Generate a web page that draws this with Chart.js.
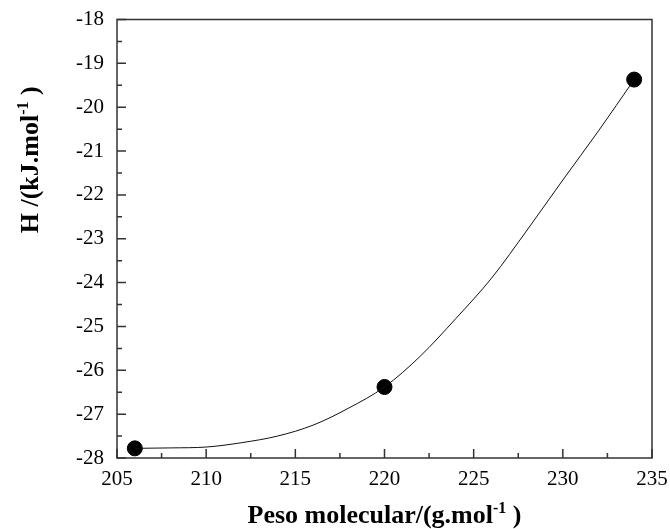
<!DOCTYPE html>
<html>
<head>
<meta charset="utf-8">
<script src="https://cdn.jsdelivr.net/npm/chart.js@4.4.1/dist/chart.umd.min.js"></script>
<style>
  body { margin: 0; background: #fff; }
  #wrap { width: 670px; height: 529px; }
  .probe { position: absolute; left: -9999px; font-family: "Liberation Serif"; }
</style>
</head>
<body>
<span class="probe">0</span><span class="probe" style="font-weight:bold">0</span>
<div id="wrap"><canvas id="chart" width="670" height="529"></canvas></div>
<script>
// measured points
const massValues = [206, 220, 234];
const enthalpyValues = [-27.78, -26.38, -19.37];

// fitted curve
const fitMass = [206, 208, 210, 212, 214, 216, 218, 220, 222, 224, 226, 228, 230, 232, 234];
const fitEnthalpy = [-27.78, -27.77, -27.75, -27.65, -27.5, -27.25, -26.86, -26.38, -25.68, -24.82, -23.9, -22.8, -21.66, -20.54, -19.37];

const xMin = 205, xMax = 235, xStep = 2.5;
const yMin = -28, yMax = -18, yStep = 0.5;

// plot box of the original figure
const box = { left: 117, right: 652, top: 19.5, bottom: 458 };

const serif = '"Liberation Serif", "DejaVu Serif", serif';

// draw text made of pieces with different size / raise (for superscripts)
function drawRich(ctx, parts, cx, cy, angle) {
  ctx.save();
  ctx.translate(cx, cy);
  ctx.rotate(angle);
  let total = 0;
  parts.forEach((p) => {
    ctx.font = `bold ${p.size}px ${serif}`;
    p.w = ctx.measureText(p.text).width;
    total += p.w;
  });
  let x = -total / 2;
  ctx.fillStyle = "#000";
  ctx.textBaseline = "alphabetic";
  ctx.textAlign = "left";
  parts.forEach((p) => {
    ctx.font = `bold ${p.size}px ${serif}`;
    ctx.fillText(p.text, x, -(p.rise || 0));
    x += p.w;
  });
  ctx.restore();
}

const frameAndTicks = {
  id: "frameAndTicks",
  beforeDatasetsDraw(chart) {
    const { ctx, chartArea: a, scales } = chart;
    ctx.save();
    ctx.strokeStyle = "#333";
    ctx.lineWidth = 1.5;
    ctx.strokeRect(a.left, a.top, a.right - a.left, a.bottom - a.top);
    ctx.beginPath();
    scales.x.ticks.forEach((t) => {
      const px = scales.x.getPixelForValue(t.value);
      const len = t.value % 5 === 0 ? 9 : 5;
      ctx.moveTo(px, a.bottom);
      ctx.lineTo(px, a.bottom - len);
    });
    scales.y.ticks.forEach((t) => {
      const py = scales.y.getPixelForValue(t.value);
      const len = Number.isInteger(t.value) ? 9 : 5;
      ctx.moveTo(a.left, py);
      ctx.lineTo(a.left + len, py);
    });
    ctx.stroke();
    ctx.restore();
  },
  afterDraw(chart) {
    const { ctx, chartArea: a } = chart;
    drawRich(ctx, [
      { text: "Peso molecular/(g.mol", size: 26 },
      { text: "-1", size: 16, rise: 10 },
      { text: " )", size: 26 },
    ], (a.left + a.right) / 2, 522.5, 0);
    drawRich(ctx, [
      { text: "H /(kJ.mol", size: 26 },
      { text: "-1", size: 16, rise: 10 },
      { text: " )", size: 26 },
    ], 38, a.top + (a.bottom - a.top) * 0.32, -Math.PI / 2);
  },
};

// keep tick labels from pushing the plot box around
function fixX(s) {
  s.height = 529 - box.bottom;
  s.paddingLeft = s.paddingRight = 0;
}
function fixY(s) {
  s.width = box.left;
  s.paddingTop = s.paddingBottom = 0;
}

function draw() {
  const ctx = document.getElementById("chart").getContext("2d");
  new Chart(ctx, {
    type: "scatter",
    data: {
      datasets: [
        {
          label: "fit",
          data: fitMass.map((m, i) => ({ x: m, y: fitEnthalpy[i] })),
          showLine: true,
          borderColor: "#111",
          borderWidth: 1,
          pointRadius: 0,
          cubicInterpolationMode: "monotone",
        },
        {
          label: "H",
          data: massValues.map((m, i) => ({ x: m, y: enthalpyValues[i] })),
          backgroundColor: "#000",
          borderColor: "#000",
          pointRadius: 7.5,
          pointStyle: "circle",
        },
      ],
    },
    options: {
      responsive: false,
      animation: false,
      layout: { padding: { top: box.top, right: 670 - box.right, left: 0, bottom: 0 } },
      plugins: {
        legend: { display: false },
        tooltip: { enabled: false },
      },
      scales: {
        x: {
          type: "linear",
          min: xMin,
          max: xMax,
          grid: { display: false, drawTicks: false },
          border: { display: false },
          ticks: {
            stepSize: xStep,
            autoSkip: false,
            maxRotation: 0,
            padding: 9,
            color: "#000",
            font: { family: serif, size: 21 },
            callback: (v) => (v % 5 === 0 ? v : ""),
          },
          afterFit: fixX,
        },
        y: {
          type: "linear",
          min: yMin,
          max: yMax,
          grid: { display: false, drawTicks: false },
          border: { display: false },
          ticks: {
            stepSize: yStep,
            autoSkip: false,
            padding: 13,
            color: "#000",
            font: { family: serif, size: 21 },
            callback: (v) => (Number.isInteger(v) ? v : ""),
          },
          afterFit: fixY,
        },
      },
    },
    plugins: [frameAndTicks],
  });
}

Promise.all([
  document.fonts.load('21px "Liberation Serif"'),
  document.fonts.load('bold 26px "Liberation Serif"'),
]).then(draw, draw);
</script>
</body>
</html>
